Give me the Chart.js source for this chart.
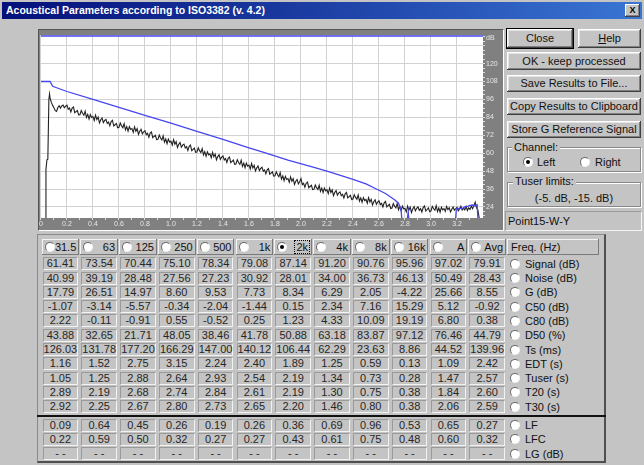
<!DOCTYPE html>
<html><head><meta charset="utf-8">
<script src="https://cdn.jsdelivr.net/npm/chart.js@4/dist/chart.umd.min.js"></script>
<style>
*{box-sizing:border-box;}
html,body{margin:0;padding:0;}
body{width:644px;height:465px;overflow:hidden;background:#c4c4c4;position:relative;
 font-family:"Liberation Sans Narrow","Arial Narrow","Liberation Sans",Arial,sans-serif;font-size:11px;color:#000;}
.a{position:absolute;}
#title{left:2px;top:2px;width:640px;height:17px;background:linear-gradient(to right,#04107a,#1a3aa0 45%,#3a76d4);
 color:#fff;font-weight:bold;font-size:10.5px;line-height:17px;padding-left:4px;white-space:nowrap;}
#xbtn{left:625px;top:4px;width:15px;height:13px;background:#c4c4c4;font-family:"Liberation Sans",Arial;font-weight:bold;font-size:9px;line-height:13px;text-align:center;
 box-shadow:inset -1px -1px #404040,inset 1px 1px #fff,inset -2px -2px #808080;}
.btn{background:#c4c4c4;text-align:center;white-space:nowrap;color:#111;
 box-shadow:inset -1px -1px #404040,inset 1px 1px #ffffff,inset -2px -2px #808080,inset 2px 2px #e4e4e4;}
.def{outline:1px solid #000;}
.grp{border:1px solid #888;box-shadow:1px 1px 0 #fff, inset 1px 1px 0 #fff;}
.glab{background:#c4c4c4;padding:0 2px;line-height:12px;white-space:nowrap;color:#111;}
.radio{width:10px;height:10px;border-radius:50%;background:#fff;border:1px solid;border-color:#6a6a6a #f4f4f4 #f4f4f4 #6a6a6a;}
.radio.on::after{content:"";position:absolute;left:2px;top:2px;width:4px;height:4px;border-radius:50%;background:#000;}
.cell{border:1px solid;border-color:#9a9a9a #f2f2f2 #f2f2f2 #9a9a9a;text-align:center;line-height:11px;color:#262626;white-space:nowrap;}
.hdr{background:#c4c4c4;box-shadow:inset -1px -1px #7a7a7a,inset 1px 1px #f4f4f4;line-height:16px;white-space:nowrap;color:#111;}
#frame{left:38px;top:29px;width:466px;height:202px;border:1px solid;border-color:#555 #fff #fff #555;}
canvas{position:absolute;left:39px;top:30px;}
</style></head>
<body>
<div id="title" class="a">Acoustical Parameters according to ISO3382 (v. 4.2)</div>
<div id="xbtn" class="a">X</div>

<div id="frame" class="a"></div>
<canvas id="c" width="464" height="200"></canvas>

<div class="a btn def" style="left:507px;top:29px;width:66px;height:19px;line-height:19px;">Close</div>
<div class="a btn" style="left:578px;top:29px;width:63px;height:19px;line-height:19px;"><u>H</u>elp</div>
<div class="a btn" style="left:507px;top:52px;width:134px;height:18px;line-height:18px;">OK - keep processed</div>
<div class="a btn" style="left:507px;top:75px;width:134px;height:17px;line-height:17px;">Save Results to File...</div>
<div class="a btn" style="left:507px;top:98px;width:134px;height:17px;line-height:17px;">Copy Results to Clipboard</div>
<div class="a btn" style="left:507px;top:121px;width:134px;height:17px;line-height:17px;">Store G Reference Signal</div>

<div class="a grp" style="left:507px;top:147px;width:134px;height:25px;"></div>
<div class="a glab" style="left:512px;top:141px;">Channel:</div>
<div class="a radio on" style="left:523px;top:157px;"></div>
<div class="a" style="left:537px;top:155px;line-height:14px;color:#111;">Left</div>
<div class="a radio" style="left:580px;top:157px;"></div>
<div class="a" style="left:595px;top:155px;line-height:14px;color:#111;">Right</div>

<div class="a grp" style="left:507px;top:182px;width:134px;height:25px;"></div>
<div class="a glab" style="left:513px;top:175px;">Tuser limits:</div>
<div class="a" style="left:507px;top:191px;width:134px;text-align:center;line-height:14px;color:#111;">(-5. dB, -15. dB)</div>

<div class="a" style="left:505px;top:211px;width:137px;height:20px;border:1px solid;border-color:#9a9a9a #f4f4f4 #f4f4f4 #9a9a9a;line-height:18px;padding-left:2px;color:#111;">Point15-W-Y</div>

<div id="tframe" class="a" style="left:37px;top:234px;width:569px;height:229px;border-style:solid;border-width:1px 2px 2px 1px;border-color:#8a8a8a #505050 #505050 #8a8a8a;"></div>
<div class="a" style="left:37px;top:415px;width:569px;height:2px;background:#111;"></div>
<div id="tbl"></div>

<script>
// ---------- chart data ----------
const X_MAJOR = [0,0.2,0.4,0.6,0.8,1.0,1.2,1.4,1.6,1.8,2.0,2.2,2.4,2.6,2.8,3.0,3.2];
const X_MINOR = [0.1,0.3,0.5,0.7,0.9,1.1,1.3,1.5,1.7,1.9,2.1,2.3,2.5,2.7,2.9,3.1,3.3];
const Y_MAJOR = [24,36,48,60,72,84,96,108,120,132];
const Y_UNIT_POS = 136.8;

// energy decay (black): onset, then samples every 10 ms from 0.07 s
const ONSET_T  = [0.038, 0.0385, 0.046, 0.053, 0.061, 0.066];
const ONSET_DB = [5, 49, 55.6, 56, 96, 99.7];
const DECAY_T0 = 0.07, DECAY_DT = 0.01;
const DECAY_DB = [
 97,94,92,
 90.5,88.5,88,90.6,91.8,90.2,91.6,92.2,90.4,91.5,
 92.1,89.35,90.2,87.55,90.2,90.95,87.1,87.85,88.6,85.65,
 85.8,88.6,86.7,85.4,88.1,83.9,86.0,82.9,85.9,83.9,
 84.5,81.9,85.5,82.5,84.2,80.3,82.4,83.6,80.5,81.9,
 82.6,79.95,80.9,78.35,81.1,81.95,78.2,79.05,79.9,77.05,
 77.3,80.15,78.3,77.05,79.8,75.65,77.8,74.75,77.8,75.85,
 76.5,73.95,77.6,74.65,76.4,72.55,74.7,75.95,72.9,74.35,
 75.1,72.4,73.3,70.7,73.4,74.2,70.4,71.2,72.0,69.1,
 69.3,72.1,70.2,68.9,71.6,67.4,69.5,66.4,69.4,67.4,
 68.0,65.4,69.0,66.0,67.7,63.8,65.9,67.1,64.0,65.4,
 66.1,63.45,64.4,61.85,64.6,65.45,61.7,62.55,63.4,60.55,
 60.8,63.6,61.7,60.4,63.1,58.9,61.0,57.9,60.9,58.9,
 59.5,56.95,60.6,57.65,59.4,55.55,57.7,58.95,55.9,57.35,
 58.1,55.45,56.4,53.85,56.6,57.45,53.7,54.55,55.4,52.55,
 52.8,55.65,53.8,52.55,55.3,51.15,53.3,50.25,53.3,51.35,
 52.0,49.45,53.1,50.15,51.9,48.05,50.2,51.45,48.4,49.85,
 50.6,47.9,48.8,46.2,48.9,49.7,45.9,46.7,47.5,44.6,
 44.8,47.55,45.6,44.25,46.9,42.65,44.7,41.55,44.5,42.45,
 43.0,40.45,44.1,41.15,42.9,39.05,41.2,42.45,39.4,40.85,
 43.0,38.9,39.8,37.2,39.9,40.7,36.9,37.7,38.5,35.6,
 35.8,38.7,36.9,35.7,38.5,34.4,36.6,33.6,36.7,34.8,
 35.5,32.95,36.6,33.65,35.4,31.55,33.7,34.95,31.9,33.35,
 34.1,31.5,32.5,30.0,32.8,33.7,30.0,30.9,31.8,29.0,
 29.3,32.2,30.4,29.2,32.0,27.9,30.1,27.1,30.2,28.3,
 29.0,26.5,30.2,27.3,29.1,25.3,27.5,28.8,25.8,27.3,
 28.1,25.5,26.5,24.0,26.8,27.7,24.0,24.9,25.8,23.0,
 23.3,26.25,24.5,23.35,26.2,22.15,24.4,21.45,24.6,22.75,
 23.0,20.7,24.6,21.9,23.9,20.3,22.7,24.2,21.4,23.1,
 24.1,21.7,22.9,20.6,23.6,24.7,21.2,22.3,23.4,20.8,
 21.3,24.4,22.8,21.8,24.8,20.9,23.3,20.5,23.8,22.1,
 22.9,21.0,24.3,22.2,23.5,20.6,22.4,24.0,21.8,22.8,
 23.8,21.4,22.6,24.5,21.9,23.2,22.0,24.3,21.6,23.4,
 22.4,24.6,22.8,24.9,27.2,23.5,22.1,17,5
];

// backward-integrated curve (blue)
const BLUE_T  = [0,0.07,0.09,0.2,0.4,0.6,0.8,1.0,1.2,1.4,1.6,1.72,1.9,2.1,2.2,2.4,2.5,2.58,2.65,2.72,2.75,2.77,2.785,
                 2.80,2.825,2.84,3.18,3.195,3.22,3.24,3.26,3.28,3.30,3.32,3.34,3.355,3.368];
const BLUE_DB = [108,108,104.8,101.3,96,90.6,85.3,80.1,74.6,69.2,63.6,60.3,55.3,50.5,48,42.5,39.5,36,33,28.8,26.5,22,5,
                 5,20.7,5,5,22.5,23.2,23,24,24.4,25,25.3,24.8,25.5,5];

// ---------- table data ----------
const FREQS = ['31.5','63','125','250','500','1k','2k','4k','8k','16k','A','Avg'];
const SELECTED_FREQ = '2k';
const ROW_LABELS = ['Signal (dB)','Noise (dB)','G (dB)','C50 (dB)','C80 (dB)','D50 (%)','Ts (ms)','EDT (s)','Tuser (s)','T20 (s)','T30 (s)'];
const SIGNAL = [61.41,73.54,70.44,75.10,78.34,79.08,87.14,91.20,90.76,95.96,97.02,79.91];
const NOISE  = [40.99,39.19,28.48,27.56,27.23,30.92,28.01,34.00,36.73,46.13,50.49,28.43];
const G_DB   = [17.79,26.51,14.97,8.60,9.53,7.73,8.34,6.29,2.05,-4.22,25.66,8.55];
const C50    = [-1.07,-3.14,-5.57,-0.34,-2.04,-1.44,0.15,2.34,7.16,15.29,5.12,-0.92];
const C80    = [2.22,-0.11,-0.91,0.55,-0.52,0.25,1.23,4.33,10.09,19.19,6.80,0.38];
const D50    = [43.88,32.65,21.71,48.05,38.46,41.78,50.88,63.18,83.87,97.12,76.46,44.79];
const TS     = [126.03,131.78,177.20,166.29,147.00,140.12,106.44,62.29,23.63,8.86,44.52,139.96];
const EDT    = [1.16,1.52,2.75,3.15,2.24,2.40,1.89,1.25,0.59,0.13,1.09,2.42];
const TUSER  = [1.05,1.25,2.88,2.64,2.93,2.54,2.19,1.34,0.73,0.28,1.47,2.57];
const T20    = [2.89,2.19,2.68,2.74,2.84,2.61,2.19,1.30,0.75,0.38,1.84,2.60];
const T30    = [2.92,2.25,2.67,2.80,2.73,2.65,2.20,1.46,0.80,0.38,2.06,2.59];
const LOWER_LABELS = ['LF','LFC','LG (dB)'];
const LF     = [0.09,0.64,0.45,0.26,0.19,0.26,0.36,0.69,0.96,0.53,0.65,0.27];
const LFC    = [0.22,0.59,0.50,0.32,0.27,0.27,0.43,0.61,0.75,0.48,0.60,0.32];
const LG     = ['- -','- -','- -','- -','- -','- -','- -','- -','- -','- -','- -','- -'];

// ---------- table ----------
const tbl = document.getElementById('tbl');
function box(cls, x, y, w, h, html, extra){
  const d = document.createElement('div');
  d.className = 'a ' + cls;
  d.style.left = x+'px'; d.style.top = y+'px'; d.style.width = w+'px'; d.style.height = h+'px';
  if (extra) d.style.cssText += extra;
  d.innerHTML = html || '';
  tbl.appendChild(d);
  return d;
}
const COL_X0 = 41, COL_W = 38.8;
FREQS.forEach((f,i)=>{
  const x = COL_X0 + i*COL_W;
  const h = box('hdr', x+0.5, 239, COL_W-1, 16, '');
  const r = document.createElement('div'); r.className = 'a radio' + (f===SELECTED_FREQ?' on':'');
  r.style.left='3px'; r.style.top='3px'; h.appendChild(r);
  const t = document.createElement('div'); t.className='a';
  t.style.right='3px'; t.style.top='2px'; t.style.lineHeight='12px';
  if (f===SELECTED_FREQ){ t.style.outline='1px dotted #000'; t.style.padding='0 1px'; }
  t.textContent = f; h.appendChild(t);
});
box('hdr', 507, 239, 92, 16, '<span style="padding-left:4px">Freq. (Hz)</span>');

const UPPER = [SIGNAL,NOISE,G_DB,C50,C80,D50,TS,EDT,TUSER,T20,T30];
const LOWER = [LF,LFC,LG];
function fmt(v){ return typeof v === 'number' ? v.toFixed(2) : v; }
function addRow(vals, label, yc){
  vals.forEach((v,i)=>{
    const x = COL_X0 + i*COL_W;
    box('cell', x+1.5, yc-6.5, COL_W-3, 13, fmt(v));
  });
  box('radio', 510, yc-5, 10, 10, '');
  box('', 525, yc-7, 80, 14, label, 'line-height:14px;white-space:nowrap;color:#111;');
}
UPPER.forEach((vals,k)=> addRow(vals, ROW_LABELS[k], 263.7 + k*14.3));
LOWER.forEach((vals,k)=> addRow(vals, LOWER_LABELS[k], 425 + k*14.3));

// ---------- chart ----------
const decay = ONSET_T.map((t,i)=>({x:t,y:ONSET_DB[i]}))
  .concat(DECAY_DB.map((v,i)=>({x:DECAY_T0 + i*DECAY_DT, y:v})));
const blue = BLUE_T.map((t,i)=>({x:t,y:BLUE_DB[i]}));

const yTicks = Y_MAJOR.slice();
for (let v=18; v<=138; v+=3) if (!Y_MAJOR.includes(v)) yTicks.push(v);
yTicks.push(Y_UNIT_POS);
yTicks.sort((a,b)=>a-b);
const xTicks = X_MAJOR.concat(X_MINOR).sort((a,b)=>a-b);

const areaPlugin = {
  id:'area',
  beforeDraw(chart){
    const {ctx, chartArea:a} = chart;
    ctx.save();
    ctx.fillStyle = '#808080'; ctx.fillRect(0,0,chart.width,chart.height);
    ctx.fillStyle = '#ffffff'; ctx.fillRect(a.left,a.top,a.right-a.left,a.bottom-a.top);
    ctx.restore();
  },
  afterDraw(chart){
    const {ctx, chartArea:a} = chart;
    ctx.save();
    ctx.strokeStyle = '#4646f2'; ctx.lineWidth = 1.5;
    ctx.beginPath(); ctx.moveTo(a.left, a.top+0.75); ctx.lineTo(a.right, a.top+0.75); ctx.stroke();
    ctx.restore();
  }
};

new Chart(document.getElementById('c'), {
  type:'line',
  data:{ datasets:[
    {data:blue, borderColor:'#4646f2', borderWidth:1.3, pointRadius:0, tension:0, clip:0},
    {data:decay, borderColor:'#222222', borderWidth:1.1, pointRadius:0, tension:0, clip:0}
  ]},
  options:{
    responsive:false, animation:false, devicePixelRatio:1,
    layout:{padding:{left:1, top:1, right:0, bottom:0}},
    plugins:{legend:{display:false}, tooltip:{enabled:false}},
    scales:{
      x:{type:'linear', min:0, max:3.4,
        afterBuildTicks:s=>{ s.ticks = xTicks.map(v=>({value:v})); },
        afterFit:s=>{ s.height = 12; },
        border:{display:false},
        grid:{color:c=> X_MAJOR.includes(c.tick && c.tick.value) ? '#d2d2d2' : 'rgba(0,0,0,0)',
              tickColor:'#dcdcdc', tickLength:2, drawTicks:true},
        ticks:{autoSkip:false, maxRotation:0, minRotation:0, padding:0, color:'#e6e6e6',
               font:{family:'Liberation Sans', size:7},
               callback:v=> X_MAJOR.includes(v) ? (v===0?'0':v.toFixed(1)) : ''}
      },
      y:{type:'linear', position:'right', min:16.6, max:139.0,
        afterBuildTicks:s=>{ s.ticks = yTicks.map(v=>({value:v})); },
        afterFit:s=>{ s.width = 20; },
        border:{display:false},
        grid:{color:c=> (c.tick && Y_MAJOR.includes(c.tick.value)) ? '#d2d2d2' : 'rgba(0,0,0,0)',
              tickColor:c=> (c.tick && c.tick.value===Y_UNIT_POS) ? 'rgba(0,0,0,0)' : '#dcdcdc',
              tickLength:2, drawTicks:true},
        ticks:{autoSkip:false, padding:1, color:'#e6e6e6', font:{family:'Liberation Sans', size:7},
               callback:v=> v===Y_UNIT_POS ? 'dB' : ((Y_MAJOR.includes(v) && v!==132) ? String(v) : '')}
      }
    }
  },
  plugins:[areaPlugin]
});
</script>
</body></html>
